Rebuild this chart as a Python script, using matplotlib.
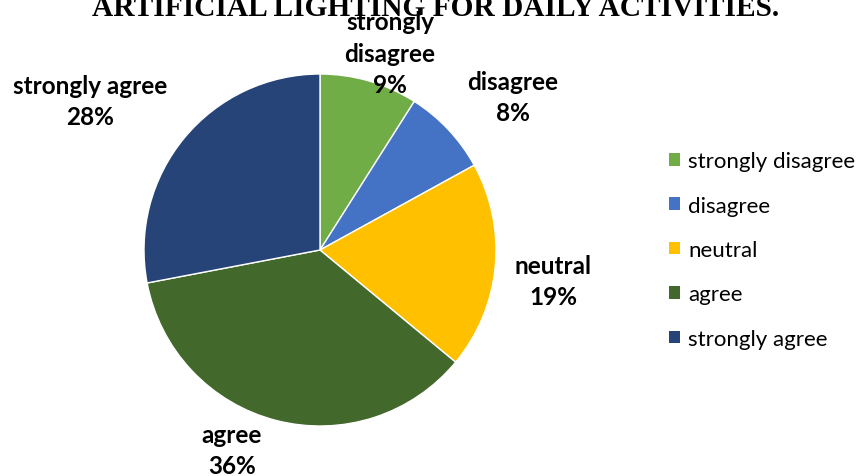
import matplotlib
matplotlib.use("Agg")
import matplotlib.pyplot as plt
from matplotlib.patches import Patch

categories = ["strongly disagree", "disagree", "neutral", "agree", "strongly agree"]
shares = [9, 8, 19, 36, 28]
colors = ["#70AD47", "#4472C4", "#FFC000", "#43682B", "#264478"]
label_text = ["strongly\ndisagree", "disagree", "neutral", "agree", "strongly agree"]
title = "ARTIFICIAL LIGHTING FOR DAILY ACTIVITIES."

W, H = 856, 477
fig = plt.figure(figsize=(W / 100, H / 100), dpi=100)
fig.patch.set_facecolor("white")

# pie geometry in pixels (from top-left)
cx, cy, r = 320, 251, 176
ax = fig.add_axes([(cx - r) / W, (H - cy - r) / H, 2 * r / W, 2 * r / H])
wedges, _ = ax.pie(shares, colors=colors, startangle=90, counterclock=False,
                   radius=1.0, wedgeprops=dict(edgecolor="white", linewidth=1.0))
ax.set_xlim(-1, 1)
ax.set_ylim(-1, 1)
ax.set_aspect("equal")
ax.axis("off")

# label anchor positions (pixel centres of each label block)
label_px = [(390, 54), (513, 98), (553, 282), (232, 451), (90, 102)]
lab_font = dict(family=["Lato", "DejaVu Sans"], fontweight="bold", fontsize=17.5, color="#000000")
for txt, val, (px, py) in zip(label_text, shares, label_px):
    ax.text((px - cx) / r, (cy - py) / r, f"{txt}\n{val}%", ha="center", va="center",
            linespacing=1.45, clip_on=False, **lab_font)

fig.text(436 / W, (H - 16) / H, title, ha="center", va="baseline",
         family=["Liberation Serif"], fontweight="bold", fontsize=21.2)

handles = [Patch(facecolor=c, edgecolor="none") for c in colors]
fig.legend(handles, categories, loc="center left", bbox_to_anchor=(669 / W, (H - 251) / H),
           frameon=False, handlelength=0.5, handleheight=0.5, handletextpad=0.35,
           labelspacing=1.1, borderaxespad=0, borderpad=0,
           prop=dict(family="Lato", size=16))

fig.savefig("out.png", dpi=100, facecolor="white")
